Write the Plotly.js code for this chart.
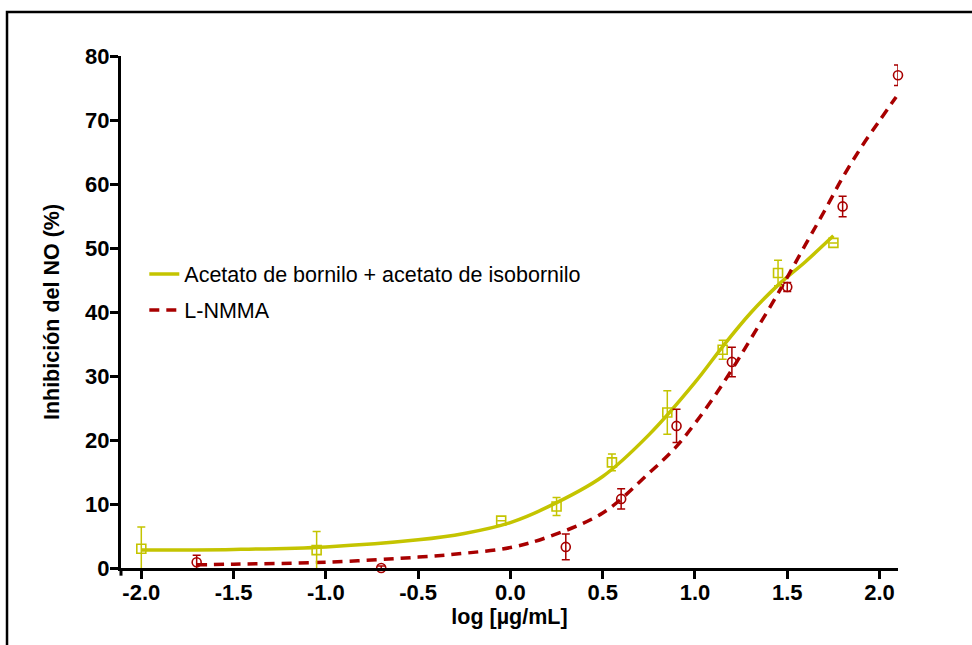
<!DOCTYPE html>
<html>
<head>
<meta charset="utf-8">
<script src="https://cdn.plot.ly/plotly-3.0.1.min.js"></script>
<style>html,body{margin:0;padding:0;background:#fff;}#chart{width:972px;height:645px;}</style>
</head>
<body>
<div id="chart"></div>
<script>
// Acetato de bornilo + acetato de isobornilo (observed points)
var acetX   = [-2.0, -1.05, -0.05, 0.25, 0.55, 0.85, 1.15, 1.45, 1.75];
var acetY   = [3.0, 2.8, 7.4, 9.6, 16.5, 24.3, 34.1, 46.1, 50.8];
var acetErr = [3.4, 2.9, 0, 1.4, 1.3, 3.4, 1.5, 2.0, 0];
// Fitted curve
var acetFitX = [-2.0, -1.5, -1.0, -0.5, -0.25, 0.0, 0.2, 0.5, 0.75, 1.0, 1.15, 1.3, 1.45, 1.6, 1.75];
var acetFitY = [2.8, 2.9, 3.3, 4.4, 5.4, 7.1, 9.5, 14.3, 20.8, 29.0, 34.6, 39.8, 44.2, 47.9, 51.9];

// L-NMMA (observed points)
var nmmaX   = [-1.7, -0.7, 0.3, 0.6, 0.9, 1.2, 1.5, 1.8, 2.1];
var nmmaY   = [0.9, 0.0, 3.3, 10.8, 22.2, 32.2, 43.9, 56.5, 77.0];
var nmmaErr = [1.1, 0.3, 2.0, 1.6, 2.6, 2.3, 0.7, 1.6, 1.6];
// Fitted curve
var nmmaFitX = [-1.7, -1.5, -1.0, -0.5, -0.25, 0.0, 0.2, 0.5, 0.75, 0.9, 1.0, 1.1, 1.2, 1.3, 1.45, 1.6, 1.7, 1.8, 1.9, 2.0, 2.09];
var nmmaFitY = [0.5, 0.6, 0.9, 1.7, 2.3, 3.2, 4.8, 8.6, 14.8, 19.0, 22.6, 26.6, 31.0, 35.7, 42.9, 50.6, 55.7, 61.0, 65.7, 69.9, 73.6];

var xTickVals = [-2.0, -1.5, -1.0, -0.5, 0.0, 0.5, 1.0, 1.5, 2.0];
var xTickText = ['-2.0', '-1.5', '-1.0', '-0.5', '0.0', '0.5', '1.0', '1.5', '2.0'];
var yTickVals = [0, 10, 20, 30, 40, 50, 60, 70, 80];

var cAcet = '#c4c400';
var cNmma = '#a80000';

var traces = [
  {x: acetFitX, y: acetFitY, mode: 'lines', name: 'Acetato de bornilo + acetato de isobornilo', legendgroup: 'a',
   line: {color: cAcet, width: 3.5, shape: 'spline', smoothing: 1}, cliponaxis: false},
  {x: nmmaFitX, y: nmmaFitY, mode: 'lines', name: 'L-NMMA', legendgroup: 'b',
   line: {color: cNmma, width: 3.5, dash: '10px,7px', shape: 'spline', smoothing: 1}, cliponaxis: false},
  {x: acetX, y: acetY, mode: 'markers', showlegend: false,
   marker: {symbol: 'square-open', size: 9, color: cAcet, line: {width: 1.6, color: cAcet}},
   error_y: {type: 'data', array: acetErr, visible: true, color: cAcet, thickness: 1.5, width: 4},
   cliponaxis: false},
  {x: nmmaX, y: nmmaY, mode: 'markers', showlegend: false,
   marker: {symbol: 'circle-open', size: 9, color: cNmma, line: {width: 1.6, color: cNmma}},
   error_y: {type: 'data', array: nmmaErr, visible: true, color: cNmma, thickness: 1.5, width: 4},
   cliponaxis: false}
];

var fontFam = 'Arial, "Liberation Sans", sans-serif';
var layout = {
  width: 972, height: 645,
  margin: {l: 121, r: 74, t: 56, b: 77},
  paper_bgcolor: '#fff', plot_bgcolor: '#fff',
  showlegend: true,
  legend: {x: 0.030, y: 0.614, xanchor: 'left', yanchor: 'top', bgcolor: 'rgba(0,0,0,0)',
           font: {family: fontFam, size: 21.5, color: '#000'},
           traceorder: 'grouped', tracegroupgap: 5},
  xaxis: {
    range: [-2.11, 2.10], showgrid: false, zeroline: false,
    showline: true, linecolor: '#000', linewidth: 3,
    ticks: 'outside', ticklen: 8, tickwidth: 3, tickcolor: '#000',
    ticklabelstandoff: -5,
    tickvals: xTickVals, ticktext: xTickText,
    tickfont: {family: fontFam, size: 22, color: '#000', weight: 'bold'},
    title: {text: 'log [µg/mL]', standoff: 0, font: {family: fontFam, size: 21.5, color: '#000', weight: 'bold'}}
  },
  yaxis: {
    range: [0, 80], showgrid: false, zeroline: false,
    showline: true, linecolor: '#000', linewidth: 3,
    ticks: 'outside', ticklen: 8, tickwidth: 3, tickcolor: '#000',
    ticklabelstandoff: -4,
    tickvals: yTickVals,
    tickfont: {family: fontFam, size: 22, color: '#000', weight: 'bold'},
    title: {text: 'Inhibición del NO (%)', standoff: 20, font: {family: fontFam, size: 21.5, color: '#000', weight: 'bold'}}
  },
  shapes: [
    {type: 'rect', xref: 'paper', yref: 'paper', x0: -0.1467, x1: 1.12, y0: -0.2, y1: 1.0859,
     line: {color: '#000', width: 2.5}, fillcolor: 'rgba(0,0,0,0)', layer: 'below'},
    {type: 'line', xref: 'paper', yref: 'paper', x0: 0, x1: 0, y0: 0, y1: -0.015,
     line: {color: '#000', width: 3}}
  ]
};

Plotly.newPlot('chart', traces, layout, {displayModeBar: false, staticPlot: true});
</script>
</body>
</html>
